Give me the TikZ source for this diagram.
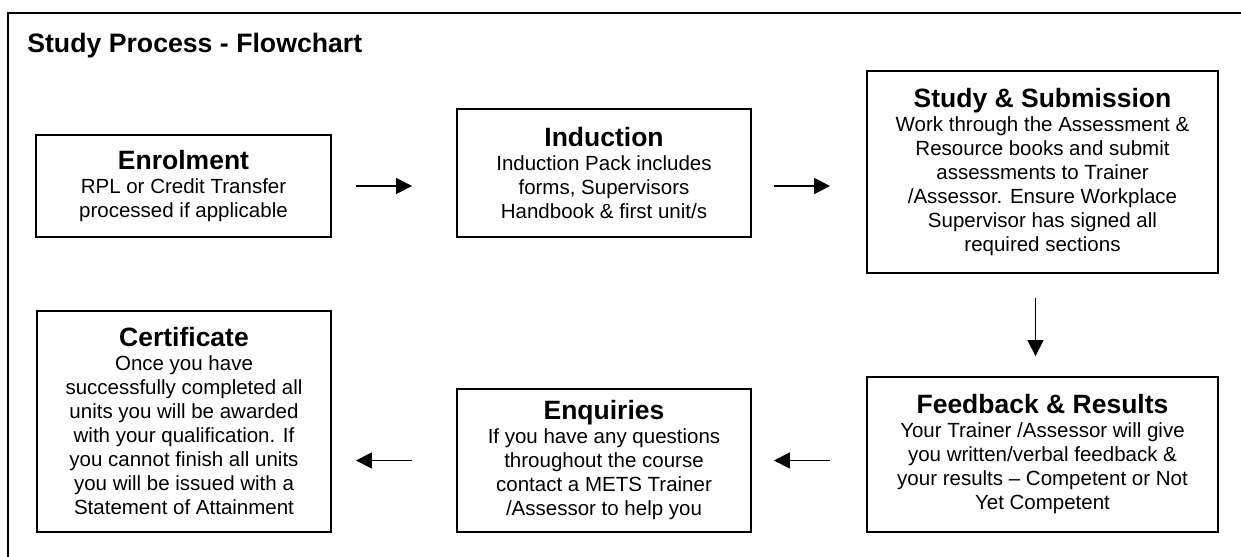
\documentclass[tikz,border=0pt]{standalone}
\usepackage{fontspec}
\setmainfont{Liberation Sans}
\usetikzlibrary{arrows.meta}
\newcommand{\boxhead}[1]{{\fontsize{15.9}{16}\selectfont\bfseries #1}}
\tikzset{
	stage/.style={draw,line width=1.1pt,align=center,inner sep=0pt,font=\fontsize{12.3}{14.4}\selectfont},
	flow/.style={-{Triangle[length=9.6pt,width=9.6pt]},line width=0.9pt}
}
\begin{document}
\begin{tikzpicture}[x=0.6pt,y=-0.6pt]
		\useasboundingbox (0,0) rectangle (1241,557);
		\draw[line width=1.1pt] (8,557) -- (8,13) -- (1241,13);
		\node[anchor=base west,inner sep=0pt,font=\fontsize{16}{18}\selectfont\bfseries](title) at (27,53) {Study Process - Flowchart};
		\node[stage,minimum width=177pt,minimum height=61.2pt](enrol) at (183.5,186) {\boxhead{Enrolment}\\RPL or Credit Transfer\\processed if applicable};
		\node[stage,minimum width=176.4pt,minimum height=76.8pt](induct) at (604,173) {\boxhead{Induction}\\Induction Pack includes\\forms, Supervisors\\Handbook \& first unit/s};
		\node[stage,minimum width=210.6pt,minimum height=121.2pt](study) at (1042.5,172) {\boxhead{Study \& Submission}\\Work through the Assessment \&\\Resource books and submit\\assessments to Trainer\\/Assessor. Ensure Workplace\\Supervisor has signed all\\required sections};
		\node[stage,minimum width=210.6pt,minimum height=93pt](feedback) at (1042.5,454.5) {\boxhead{Feedback \& Results}\\Your Trainer /Assessor\ will give\\you written/verbal feedback \&\\your results -- Competent or Not\\Yet Competent};
		\node[stage,minimum width=176.4pt,minimum height=85.8pt](enquire) at (604,460.5) {\boxhead{Enquiries}\\If you have any questions\\throughout the course\\contact a METS Trainer\\/Assessor\ to help you};
		\node[stage,minimum width=176.4pt,minimum height=132.6pt](cert) at (184,421.5) {\boxhead{Certificate}\\Once you have\\successfully completed all\\units you will be awarded\\with your qualification. If\\you cannot finish all units\\you will be issued with a\\Statement of Attainment};
		\path[flow]
		(enrol.east) edge[shorten <=14.4pt,shorten >=26.4pt] (enrol.east -| induct.west)
		(induct.east |- enrol.east) edge[shorten <=13.2pt,shorten >=21.6pt] (study.west |- enrol.east)
		([xshift=-4.2pt]study.south) edge[shorten <=14.4pt,shorten >=12pt] ([xshift=-4.2pt]feedback.north)
		(feedback.west |- enquire.east) edge[shorten <=21.6pt,shorten >=13.2pt] (enquire.east)
		(enquire.west) edge[shorten <=26.4pt,shorten >=14.4pt] (enquire.west -| cert.east);
\end{tikzpicture}
\end{document}
